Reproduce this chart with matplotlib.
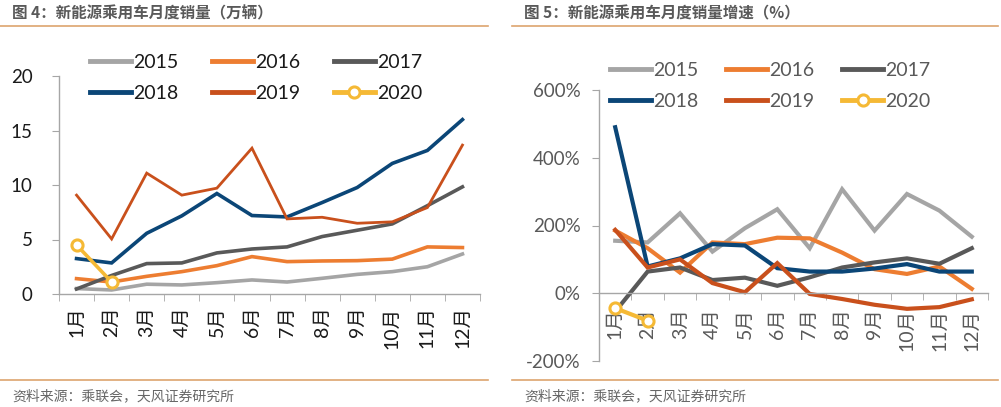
import numpy as np
import matplotlib
matplotlib.use("Agg")
import matplotlib.pyplot as plt
from matplotlib.lines import Line2D

plt.rcParams['font.family'] = ['Lato', 'Noto Sans CJK SC', 'DejaVu Sans']

# 数据
months = ['1月', '2月', '3月', '4月', '5月', '6月', '7月', '8月', '9月', '10月', '11月', '12月']
years = ['2015', '2016', '2017', '2018', '2019', '2020']

# 月度销量（万辆）
sales_2015 = [0.5, 0.37, 0.9, 0.83, 1.04, 1.29, 1.1, 1.44, 1.8, 2.05, 2.5, 3.67]
sales_2016 = [1.41, 1.1, 1.62, 2.05, 2.6, 3.43, 2.97, 3.03, 3.06, 3.2, 4.32, 4.26]
sales_2017 = [0.46, 1.7, 2.79, 2.85, 3.77, 4.13, 4.32, 5.27, 5.85, 6.43, 8.1, 9.83]
sales_2018 = [3.25, 2.85, 5.57, 7.17, 9.22, 7.2, 7.07, 8.39, 9.77, 11.98, 13.17, 16.0]
sales_2019 = [9.07, 5.05, 11.09, 9.07, 9.71, 13.38, 6.89, 7.04, 6.49, 6.62, 7.93, 13.66]
sales_2020 = [4.5, 1.1]

# 月度销量增速（%）
growth_2015 = [155, 150, 236, 123, 192, 248, 133, 307, 185, 293, 244, 167]
growth_2016 = [185, 133, 61, 150, 145, 164, 162, 120, 71, 57, 79, 13]
growth_2017 = [-54, 64, 76, 39, 46, 22, 47, 76, 91, 103, 87, 133]
growth_2018 = [490, 79, 103, 145, 141, 74, 64, 64, 73, 86, 64, 64]
growth_2019 = [187, 76, 100, 30, 3, 89, -2, -17, -34, -46, -41, -18]
growth_2020 = [-44, -81]

colors = ['#A5A5A5', '#ED7D31', '#595959', '#0B4677', '#C9501C', '#F5B935']

W, H = 1001, 407
fig = plt.figure(figsize=(W / 100, H / 100), dpi=100)


def px_axes(left, top, right, bottom):
    return fig.add_axes([left / W, 1 - bottom / H, (right - left) / W, (bottom - top) / H])


def style_axes(ax, txt_color, xpad):
    ax.set_xlim(-0.5, 11.5)
    for s in ['top', 'right']:
        ax.spines[s].set_visible(False)
    for s in ['left', 'bottom']:
        ax.spines[s].set_color('#A6A6A6')
        ax.spines[s].set_linewidth(1.0)
    ax.set_xticks(range(12))
    ax.set_xticklabels(months, rotation=90, fontsize=14, color=txt_color)
    ax.set_xticks(np.arange(-0.5, 12, 1), minor=True)
    ax.tick_params(axis='x', which='major', length=0, pad=xpad)
    ax.tick_params(axis='x', which='minor', length=5, color='#A6A6A6', direction='out')
    ax.tick_params(axis='y', length=5, color='#A6A6A6', labelsize=13.5, labelcolor=txt_color)


x = np.arange(12)

# 左图
ax1 = px_axes(59, 76, 480, 294)
for data, c, lw, lab in zip([sales_2015, sales_2016, sales_2017, sales_2018, sales_2019], colors,
                            [2.6, 2.6, 2.6, 2.6, 2.0], years):
    ax1.plot(x, data, color=c, lw=lw, label=lab, solid_joinstyle='miter')
ax1.plot(x[:2], sales_2020, color=colors[5], lw=2.6, marker='o', ms=8, mfc='white', mew=2.2, label='2020')
ax1.set_ylim(0, 20)
ax1.set_yticks([0, 5, 10, 15, 20])
style_axes(ax1, '#1A1A1A', 9)
ax1.tick_params(axis='y', pad=14)

# 右图
ax2 = px_axes(599, 90, 988, 361)
for data, c, lab in zip([growth_2015, growth_2016, growth_2017, growth_2018, growth_2019], colors, years):
    ax2.plot(x, data, color=c, lw=3.0, label=lab, solid_joinstyle='miter')
ax2.plot(x[:2], growth_2020, color=colors[5], lw=3.0, marker='o', ms=8, mfc='white', mew=2.2, label='2020')
ax2.set_ylim(-200, 600)
ax2.spines['bottom'].set_position(('data', 0))
ax2.set_yticks([-200, 0, 200, 400, 600])
ax2.set_yticklabels(['-200%', '0%', '200%', '400%', '600%'])
style_axes(ax2, '#595959', 11)
ax2.tick_params(axis='y', pad=8)


def make_legend(ax, x0, y0, spacing, txt_color):
    handles, labels = ax.get_legend_handles_labels()
    # 按行排列：2015 2016 2017 / 2018 2019 2020
    order = [0, 3, 1, 4, 2, 5]
    leg = ax.legend([handles[i] for i in order], [labels[i] for i in order], ncol=3,
                    loc='upper left', bbox_to_anchor=(x0 / W, 1 - y0 / H),
                    bbox_transform=fig.transFigure, frameon=False, fontsize=14,
                    handlelength=2.1, handletextpad=0.1, columnspacing=spacing,
                    labelspacing=0.72, borderpad=0, borderaxespad=0)
    for t in leg.get_texts():
        t.set_color(txt_color)
    for h in leg.legend_handles:
        h.set_linewidth(3.5)
    return leg


make_legend(ax1, 90, 54, 1.75, '#1A1A1A')
make_legend(ax2, 610, 62, 1.45, '#595959')

# 标题、分隔线、资料来源
cjk = ['Noto Sans CJK SC', 'DejaVu Sans']
fig.text(12 / W, 1 - 13 / H, '图 4：新能源乘用车月度销量（万辆）', fontsize=11.2, fontweight='bold',
         color='#595959', va='center', ha='left', family=cjk)
fig.text(524 / W, 1 - 13 / H, '图 5：新能源乘用车月度销量增速（%）', fontsize=11.2, fontweight='bold',
         color='#595959', va='center', ha='left', family=cjk)
fig.text(12 / W, 1 - 396 / H, '资料来源：乘联会，天风证券研究所', fontsize=10,
         color='#666666', va='center', ha='left', family=cjk)
fig.text(524 / W, 1 - 396 / H, '资料来源：乘联会，天风证券研究所', fontsize=10,
         color='#666666', va='center', ha='left', family=cjk)

line_color = '#DDA46E'
for (xa, xb) in [(0, 488), (512, 998)]:
    for yy in [26, 380]:
        fig.add_artist(Line2D([xa / W, xb / W], [1 - yy / H, 1 - yy / H], color=line_color, lw=1.2,
                              transform=fig.transFigure))

fig.savefig('out.png', dpi=100)
